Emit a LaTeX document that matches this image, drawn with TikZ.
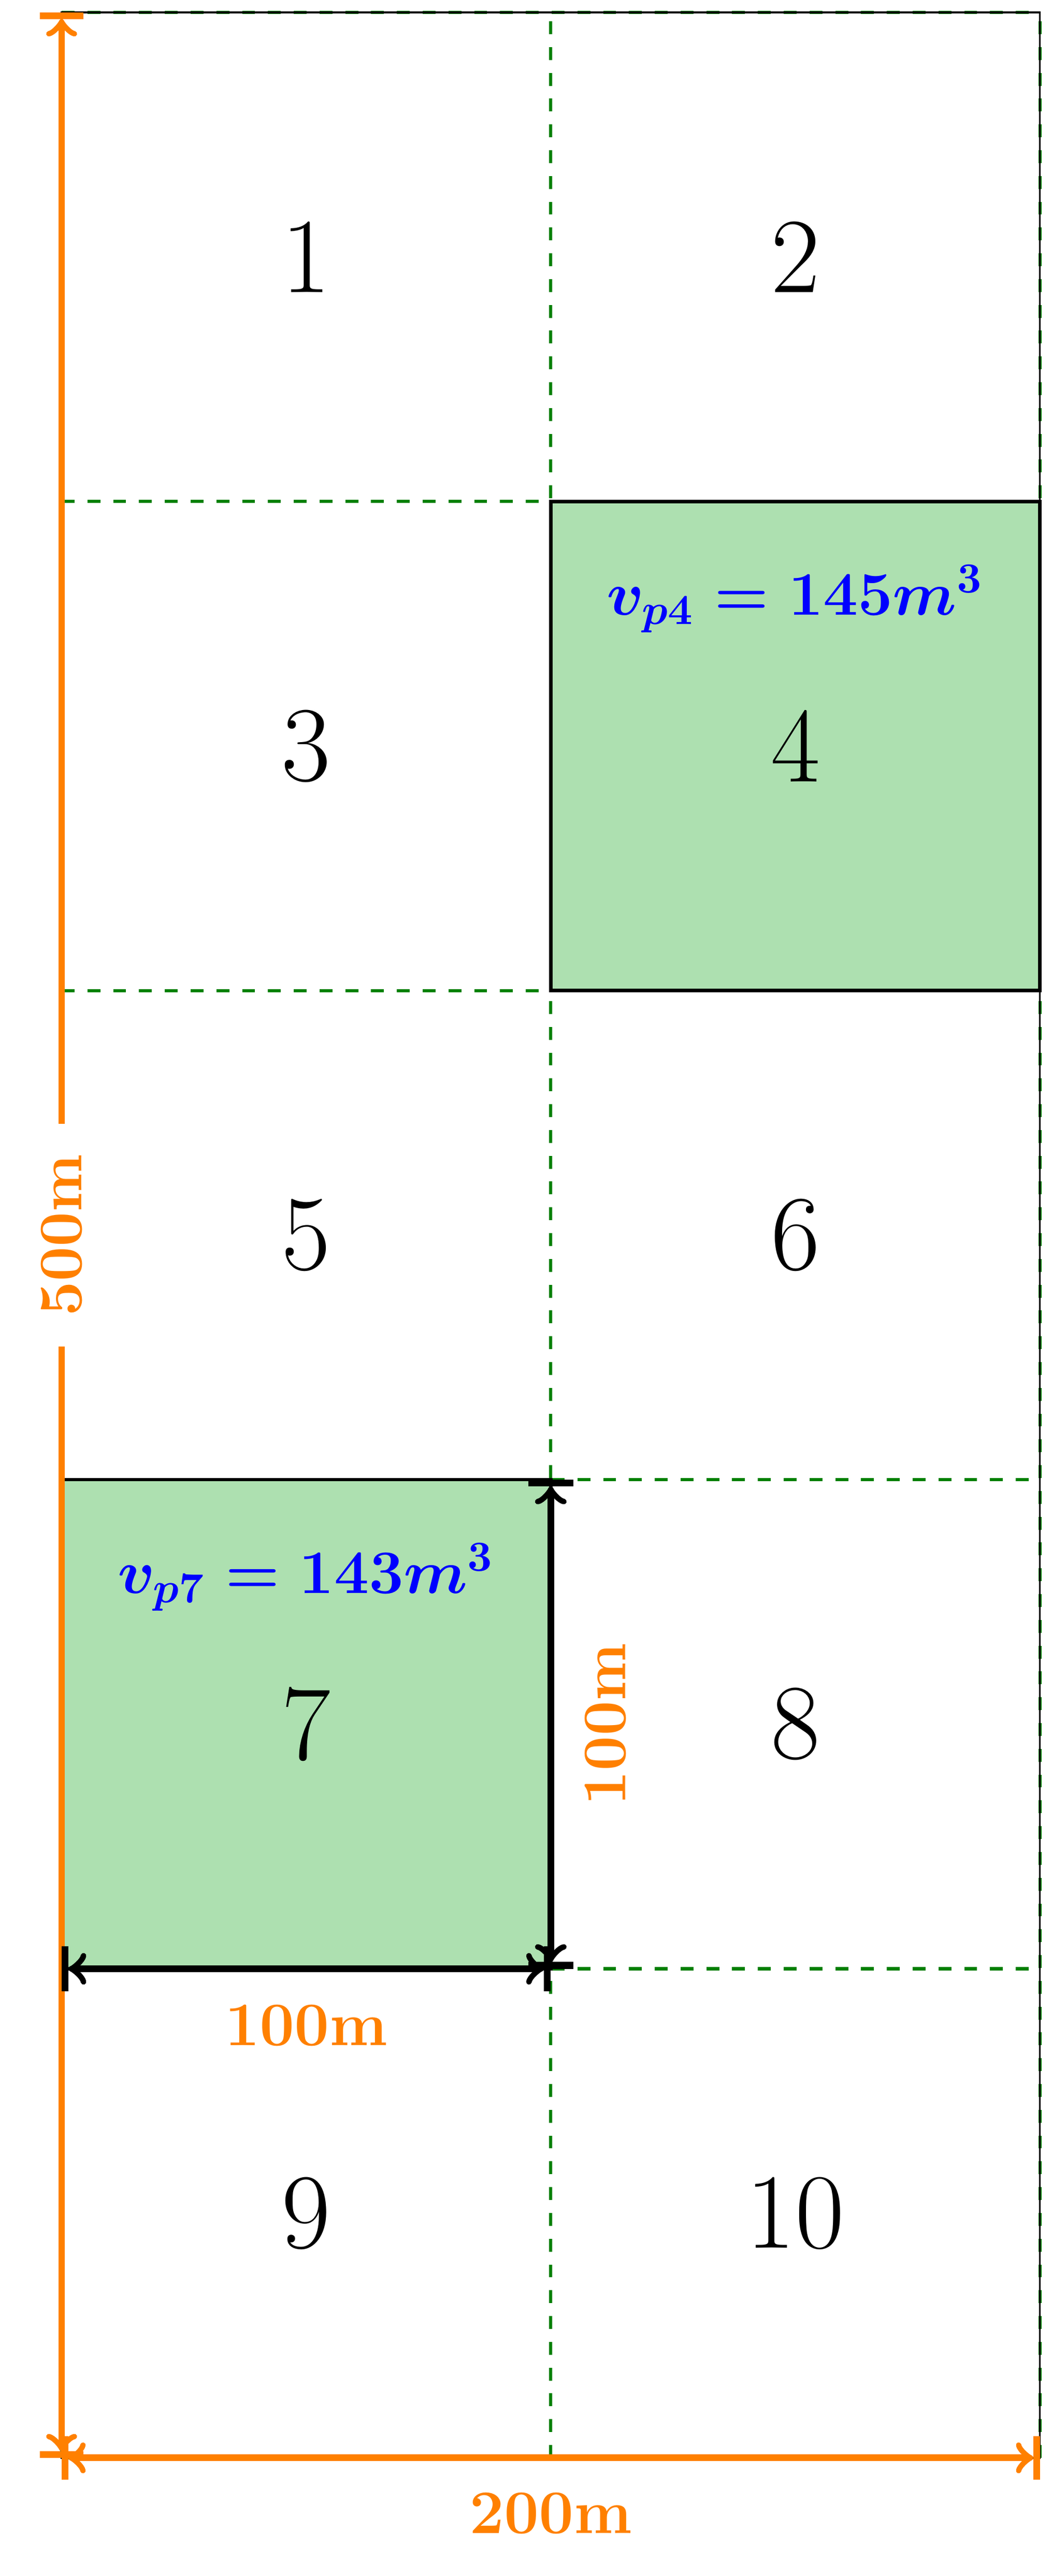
\documentclass[tikz,border=0pt]{standalone}
\usetikzlibrary{calc}
\definecolor{cellgreen}{RGB}{173,224,176}
\definecolor{gridgreen}{RGB}{0,128,0}
\definecolor{dimorange}{RGB}{255,128,0}
\begin{document}
\begin{tikzpicture}[
  gridline/.style={gridgreen, dashed, line width=0.75pt},
  outerline/.style={black, line width=0.4pt},
  cellbox/.style={draw=black, line width=0.8pt, fill=cellgreen},
  cellnum/.style={font=\Huge, inner sep=0pt},
  vollabel/.style={font=\Large\boldmath, text=blue, anchor=base, inner sep=0pt},
  dimorangeline/.style={dimorange, line width=1.55pt, |<->|},
  dimblackline/.style={black, line width=1.6pt, |<->|},
  dimlabel/.style={font=\Large\bfseries, text=dimorange, inner sep=0pt},
]
\useasboundingbox (-0.504,-0.966) rectangle (8.098,20.102);
% corner coordinates
\coordinate (BL) at (0,0);
\coordinate (BR) at (8,0);
\coordinate (TL) at (0,20);
\coordinate (TR) at (8,20);
\coordinate (L4) at (0,4);
\coordinate (M4) at (4,4);
\coordinate (M8) at (4,8);
% dashed grid and outline
\draw[gridline, step=4] (BL) grid (TR);
\draw[outerline] (BL) rectangle (TR);
% highlighted cells
\draw[cellbox] (4,12) rectangle (8,16);
\draw[cellbox] (0,4) rectangle (4,8);
% cell numbers
\node[cellnum] (c1) at (2,18) {1};
\node[cellnum] (c2) at (6,18) {2};
\node[cellnum] (c3) at (2,14) {3};
\node[cellnum] (c4) at (6,14) {4};
\node[cellnum] (c5) at (2,10) {5};
\node[cellnum] (c6) at (6,10) {6};
\node[cellnum] (c7) at (2,6) {7};
\node[cellnum] (c8) at (6,6) {8};
\node[cellnum] (c9) at (2,2) {9};
\node[cellnum] (c10) at (6,2) {10};
% volume labels
\node[vollabel] (v4) at (6,15.07) {$v_{p4} = 145m^3$};
\node[vollabel] (v7) at (2,7.07) {$v_{p7} = 143m^3$};
% orange dimension arrows
\draw[dimorangeline] (BL) -- node[dimlabel, midway, rotate=90, fill=white, inner xsep=7pt, inner ysep=3pt] (l500) {500m} (TL);
\draw[dimorangeline] (BL) -- (BR);
\node[dimlabel] (l200) at ($(BL)!0.5!(BR)+(0,-0.455)$) {200m};
% black dimension arrows
\draw[dimblackline] (L4) -- (M4);
\draw[dimblackline] (M4) -- (M8);
\node[dimlabel] (l100a) at ($(L4)!0.5!(M4)+(0,-0.465)$) {100m};
\node[dimlabel, rotate=90] (l100b) at ($(M4)!0.5!(M8)+(0.447,0)$) {100m};
\end{tikzpicture}
\end{document}
